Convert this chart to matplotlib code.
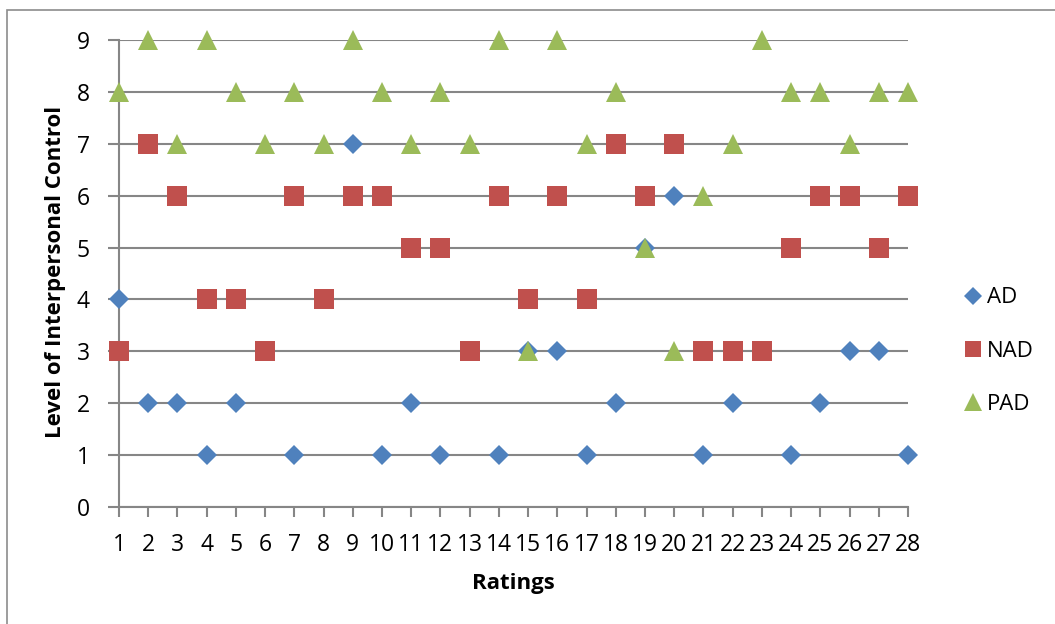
#Scatter of interpersonal control levels per rating
import numpy as np
import matplotlib.pyplot as plt
from matplotlib.patches import Rectangle

plt.rcParams['font.family'] = ['Open Sans', 'DejaVu Sans']

ratings = list(range(1, 29))
ad = [4, 2, 2, 1, 2, 3, 1, 4, 7, 1, 2, 1, 3, 1, 3, 3, 1, 2, 5, 6, 1, 2, 3, 1, 2, 3, 3, 1]
nad = [3, 7, 6, 4, 4, 3, 6, 4, 6, 6, 5, 5, 3, 6, 4, 6, 4, 7, 6, 7, 3, 3, 3, 5, 6, 6, 5, 6]
pad = [8, 9, 7, 9, 8, 7, 8, 7, 9, 8, 7, 8, 7, 9, 3, 9, 7, 8, 5, 3, 6, 7, 9, 8, 8, 7, 8, 8]
yticks = list(range(0, 10))

grey = '#868686'

fig = plt.figure(figsize=(10.55, 6.24), dpi=100)
ax = fig.add_axes([119/1055, 1-507/624, (908-119)/1055, (507-40)/624])

# outer chart border
fig.patches.append(Rectangle((7/1055, -0.05), 1.1, 1-10/624+0.05, transform=fig.transFigure,
                             fill=False, edgecolor='#8c8c8c', lw=1.2))

ax.plot(ratings, ad, 'D', color='#4F81BD', ms=10.2, mew=0, label='AD', clip_on=False, zorder=3)
ax.plot(ratings, nad, 's', color='#C0504D', ms=14, mew=0, label='NAD', clip_on=False, zorder=4)
ax.plot(ratings, pad, '^', color='#9BBB59', ms=14.5, mew=0, label='PAD', clip_on=False, zorder=5)

ax.set_xlim(1, 28)
ax.set_ylim(0, 9)
ax.set_xticks(ratings)
ax.set_yticks(yticks)
ax.yaxis.grid(True, color=grey, lw=1.5)
ax.set_axisbelow(True)
for s in ['top', 'right']:
    ax.spines[s].set_visible(False)
for s in ['left', 'bottom']:
    ax.spines[s].set_color(grey)
    ax.spines[s].set_linewidth(1.5)
ax.tick_params(axis='y', length=8, width=1.5, color=grey, pad=13, labelsize=16.5)
ax.tick_params(axis='x', length=7, width=1.5, color=grey, pad=12, labelsize=16.5)

ax.set_xlabel('Ratings', fontsize=16, fontweight='bold', labelpad=11)
# y title placed directly (centre of the rotated text)
fig.text(56/1055, 1-272/624, 'Level of Interpersonal Control', rotation=90,
         fontsize=16, fontweight='bold', ha='center', va='center')

ax.legend(loc='center left', bbox_to_anchor=(951/1055, 1-351/624), bbox_transform=fig.transFigure,
          frameon=False, fontsize=16, handletextpad=0.1, labelspacing=1.45, borderpad=0,
          handlelength=1.0, markerscale=0.85)

plt.savefig('out.png', dpi=100)
